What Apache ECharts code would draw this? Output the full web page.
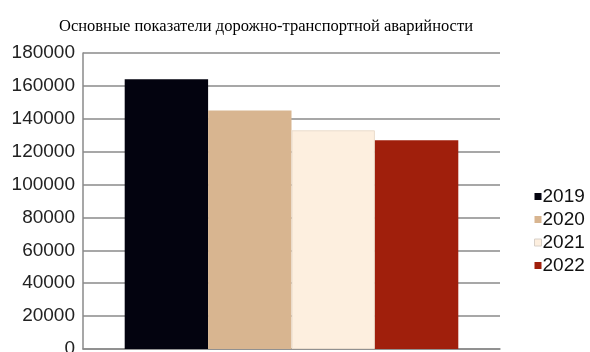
<!DOCTYPE html>
<html><head><meta charset="utf-8">
<script src="https://cdn.jsdelivr.net/npm/echarts@6/dist/echarts.min.js"></script>
<style>html,body{margin:0;padding:0;background:#fff;overflow:hidden}#c{width:590px;height:352px}</style>
</head><body><div id="c"></div>
<script>
const titleText = 'Основные показатели дорожно-транспортной аварийности';
const years = ['2019', '2020', '2021', '2022'];
const values = [164000, 145000, 133000, 127000];
const colors = ['#03030f', '#d8b590', '#fdefdf', '#a01f0c'];
const yTicks = [0, 20000, 40000, 60000, 80000, 100000, 120000, 140000, 160000, 180000];

const chart = echarts.init(document.getElementById('c'), null, {renderer: 'canvas'});
const series = years.map((y, i) => ({
  name: y,
  type: 'bar',
  data: [values[i]],
  barGap: '0%',
  barCategoryGap: '20%',
  itemStyle: {color: colors[i], borderColor: i === 2 ? '#eadccc' : colors[i], borderWidth: i === 2 ? 1 : 0},
  emphasis: {disabled: true}
}));
chart.setOption({
  animation: false,
  backgroundColor: '#fff',
  title: {
    text: titleText, left: 261, top: 13, textAlign: 'center',
    textStyle: {fontFamily: 'Liberation Serif', fontSize: 16.5, fontWeight: 'normal', color: '#000'}
  },
  legend: {
    orient: 'vertical', left: 529, top: 182, itemWidth: 7, itemHeight: 7, itemGap: 4,
    icon: 'rect',
    textStyle: {fontFamily: 'Liberation Sans', fontSize: 19, color: '#111', padding: [0,0,0,-4], lineHeight: 19},
    data: years.map((y, i) => ({name: y, itemStyle: i === 2 ? {borderColor: '#d8d0c8', borderWidth: 1} : {}}))
  },
  grid: {left: 83, right: 90, top: 53, bottom: 3, containLabel: false, outerBoundsMode: 'none'},
  xAxis: {
    type: 'category', data: [''],
    axisLine: {show: true, lineStyle: {color: '#8a8a8a', width: 1.5}},
    axisTick: {show: false}, axisLabel: {show: false}
  },
  yAxis: {
    type: 'value', min: yTicks[0], max: yTicks[yTicks.length - 1], interval: 20000,
    axisLine: {show: true, lineStyle: {color: '#8a8a8a', width: 1.5}},
    axisTick: {show: false},
    axisLabel: {fontFamily: 'Liberation Sans', fontSize: 19, color: '#222', margin: 8, formatter: v => String(v)},
    splitLine: {lineStyle: {color: '#8a8a8a', width: 1.5}}
  },
  series: series
});
</script></body></html>
